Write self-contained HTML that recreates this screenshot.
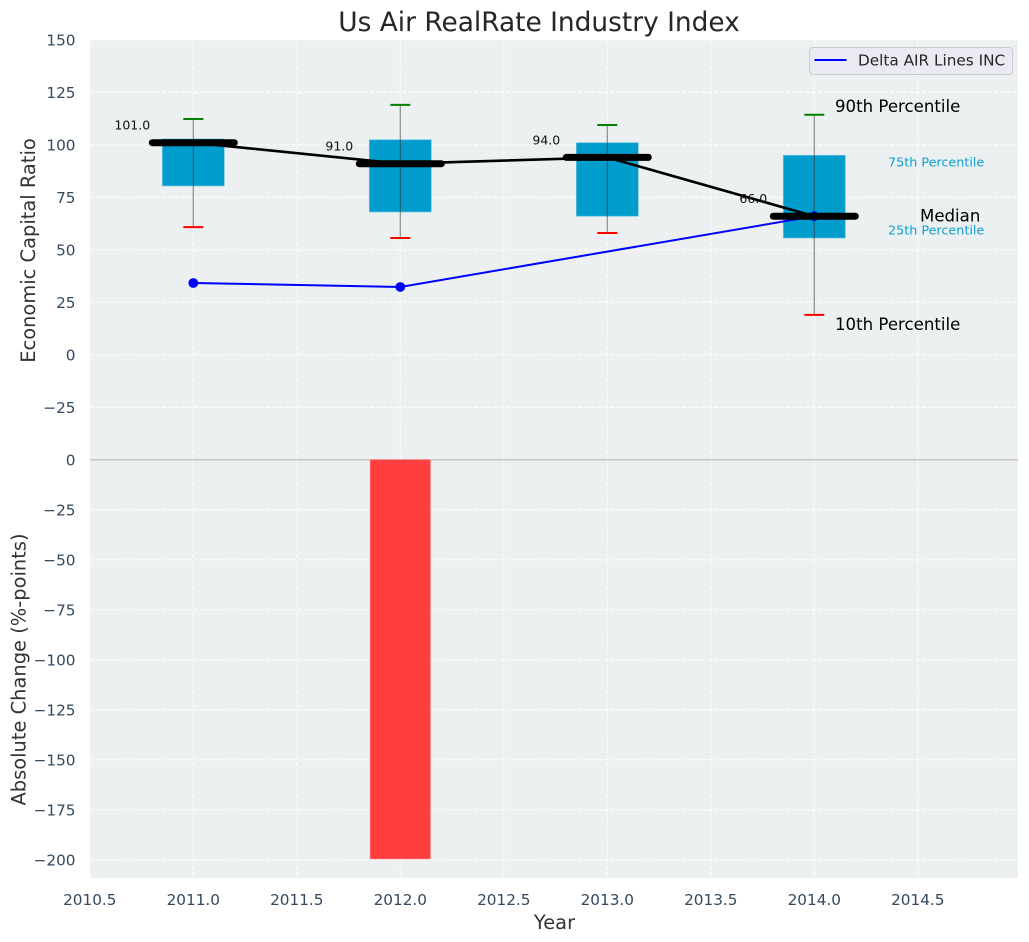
<!DOCTYPE html>
<html>
<head>
<meta charset="utf-8">
<title>Us Air RealRate Industry Index</title>
<style>
html,body{margin:0;padding:0;background:#fff;width:1029px;height:942px;overflow:hidden}
svg{display:block;font-family:"DejaVu Sans","Liberation Sans",sans-serif}
</style>
</head>
<body>
<svg id="chart" xmlns="http://www.w3.org/2000/svg" width="1029" height="942" viewBox="0 0 1029 942">
  <rect x="90" y="40" width="928" height="420" fill="#ecf0f1"/>
  <rect x="90" y="460" width="928" height="418" fill="#ecf0f1"/>
  <g id="grid"></g>
  <g id="bars"></g>
  <g id="boxes"></g>
  <g id="lines"></g>
  <g id="ticks" fill="#34495e" font-size="15.28"></g>
  <g id="values" fill="#111" font-size="12.5" text-anchor="middle"></g>

  <text x="539" y="31" text-anchor="middle" font-size="26.4" fill="#262626">Us Air RealRate Industry Index</text>
  <text transform="translate(35 250.5) rotate(-90)" text-anchor="middle" font-size="19.44" fill="#333">Economic Capital Ratio</text>
  <text transform="translate(25.5 669.5) rotate(-90)" text-anchor="middle" font-size="19.44" fill="#333">Absolute Change (%-points)</text>
  <text x="554.5" y="929" text-anchor="middle" font-size="19.44" fill="#333">Year</text>

  <g>
    <text x="835" y="112" font-size="16.6" fill="#000">90th Percentile</text>
    <text x="888" y="166.5" font-size="12.75" fill="#0f9fd0">75th Percentile</text>
    <text x="920" y="221.5" font-size="16.6" fill="#000">Median</text>
    <text x="888" y="234.5" font-size="12.75" fill="#0f9fd0">25th Percentile</text>
    <text x="835" y="330" font-size="16.6" fill="#000">10th Percentile</text>
  </g>

  <g>
    <rect x="809.5" y="47.5" width="203" height="27" rx="3.5" fill="#eaeaf2" fill-opacity="0.9" stroke="#cccccc" stroke-width="1"/>
    <line x1="814.5" y1="60" x2="846.5" y2="60" stroke="#0000ff" stroke-width="2"/>
    <text x="858" y="65.5" font-size="15.28" fill="#262626">Delta AIR Lines INC</text>
  </g>
</svg>
<script>
const years = [2011, 2012, 2013, 2014];
const p90 = [112.3, 119, 109.4, 114.3];
const p75 = [102.8, 102.4, 101, 95];
const medians = [101, 91, 94, 66];
const p25 = [80.4, 68, 66, 55.6];
const p10 = [60.8, 55.6, 58, 19];
const medianLabels = ["101.0", "91.0", "94.0", "66.0"];
const deltaYears = [2011, 2012, 2014];
const deltaValues = [34.2, 32.3, 66];
const changeYears = [2012];
const changeValues = [-199.5];
const xTickValues = [2010.5, 2011, 2011.5, 2012, 2012.5, 2013, 2013.5, 2014, 2014.5];
const upperYTicks = [150, 125, 100, 75, 50, 25, 0, -25];
const lowerYTicks = [0, -25, -50, -75, -100, -125, -150, -175, -200];

const NS = 'http://www.w3.org/2000/svg';
const xScale = function (v) { return 193.3 + (v - 2011) * 207; };
const yUpper = function (v) { return 354.8 - v * 2.1; };
const yLower = function (v) { return 459.8 - v * 2; };

function make(parent, tag, attrs, text) {
  const el = document.createElementNS(NS, tag);
  for (const k in attrs) el.setAttribute(k, attrs[k]);
  if (text !== undefined) el.textContent = text;
  parent.appendChild(el);
  return el;
}
function label(v) { return String(v).replace('-', '\u2212'); }

const grid = document.getElementById('grid');
xTickValues.forEach(function (t) {
  const gl = make(grid, 'line', {x1: xScale(t), x2: xScale(t), y1: 40, y2: 878, stroke: '#fff', 'stroke-width': 1.1, 'stroke-dasharray': '4.5 2', 'stroke-opacity': 0.9});
  
  
});
upperYTicks.forEach(function (t) {
  const gl = make(grid, 'line', {x1: 90, x2: 1018, y1: yUpper(t), y2: yUpper(t), stroke: '#fff', 'stroke-width': 1.1, 'stroke-dasharray': '4.5 2', 'stroke-opacity': 0.9});
  
  
});
lowerYTicks.forEach(function (t) {
  const gl = make(grid, 'line', {x1: 90, x2: 1018, y1: yLower(t), y2: yLower(t), stroke: '#fff', 'stroke-width': 1.1, 'stroke-dasharray': '4.5 2', 'stroke-opacity': 0.9});
  
  
});
const zero = make(grid, 'line', {x1: 90, x2: 1018, y1: yLower(0), y2: yLower(0), stroke: '#b5b5b5', 'stroke-width': 1.2});



const bars = document.getElementById('bars');
changeValues.forEach(function (v, i) {
  const cx = xScale(changeYears[i]);
  const bar = make(bars, 'rect', {x: cx - 30, y: yLower(0), width: 60, height: yLower(v) - yLower(0), fill: '#ff3f3f', stroke: '#ff6a6a', 'stroke-width': 0.8});
  
  
});

const boxes = document.getElementById('boxes');
years.forEach(function (yr, i) {
  const cx = xScale(yr);
  const box = make(boxes, 'rect', {x: cx - 31, y: yUpper(p75[i]), width: 62, height: yUpper(p25[i]) - yUpper(p75[i]), fill: '#009ccc', stroke: '#6fc3e0', 'stroke-width': 0.7});
  
  
  const whisker = make(boxes, 'line', {x1: cx, x2: cx, y1: yUpper(p90[i]), y2: yUpper(p10[i]), stroke: '#333', 'stroke-opacity': 0.55, 'stroke-width': 1.2});
  
  
  const capHigh = make(boxes, 'line', {x1: cx - 10, x2: cx + 10, y1: yUpper(p90[i]), y2: yUpper(p90[i]), stroke: '#008000', 'stroke-width': 2});
  
  
  const capLow = make(boxes, 'line', {x1: cx - 10, x2: cx + 10, y1: yUpper(p10[i]), y2: yUpper(p10[i]), stroke: '#ff0000', 'stroke-width': 2});
  
  
});

const lines = document.getElementById('lines');
const deltaLine = make(lines, 'polyline', {points: deltaYears.map(function (y, i) { return xScale(y) + ',' + yUpper(deltaValues[i]); }).join(' '), fill: 'none', stroke: '#0000ff', 'stroke-width': 2});


deltaYears.forEach(function (y, i) {
  const pt = make(lines, 'circle', {cx: xScale(y), cy: yUpper(deltaValues[i]), r: 4.9, fill: '#0000ff'});
  
  
});
const medianLine = make(lines, 'polyline', {points: years.map(function (y, i) { return xScale(y) + ',' + yUpper(medians[i]); }).join(' '), fill: 'none', stroke: '#000', 'stroke-width': 2.6});


years.forEach(function (y, i) {
  const cx = xScale(y);
  const bar = make(lines, 'line', {x1: cx - 41, x2: cx + 41, y1: yUpper(medians[i]), y2: yUpper(medians[i]), stroke: '#000', 'stroke-width': 7, 'stroke-linecap': 'round'});
  
  
});

const values = document.getElementById('values');
medianLabels.forEach(function (s, i) {
  const t = make(values, 'text', {x: xScale(years[i]) - 61, y: yUpper(medians[i]) - 13}, s);
  
  
});

const ticks = document.getElementById('ticks');
xTickValues.forEach(function (t) {
  const el = make(ticks, 'text', {x: xScale(t), y: 905, 'text-anchor': 'middle'}, t.toFixed(1));
  
  
});
upperYTicks.forEach(function (t) {
  const el = make(ticks, 'text', {x: 75.5, y: yUpper(t) + 5.5, 'text-anchor': 'end'}, label(t));
  
  
});
lowerYTicks.forEach(function (t) {
  const el = make(ticks, 'text', {x: 75.5, y: yLower(t) + 5.5, 'text-anchor': 'end'}, label(t));
  
  
});
</script>
</body>
</html>
